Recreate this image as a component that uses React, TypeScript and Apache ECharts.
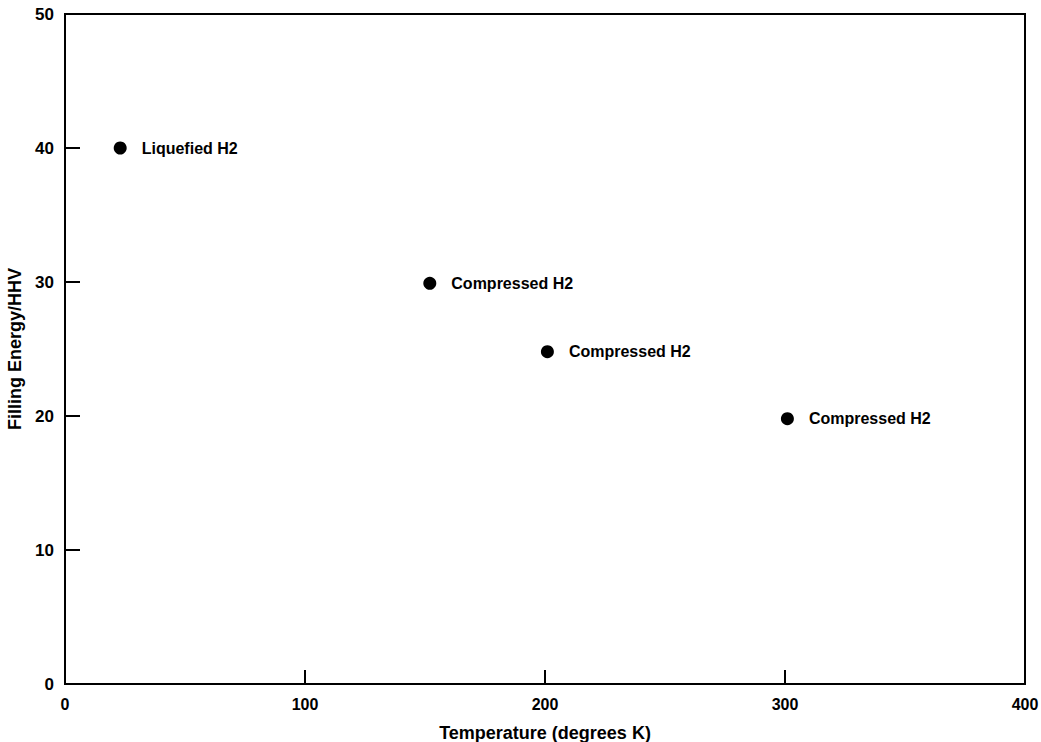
import React, { useEffect, useRef } from "react";
import * as echarts from "echarts";

const temperatures = [23, 152, 201, 301];
const fillingEnergy = [40, 29.9, 24.8, 19.8];
const pointLabels = ["Liquefied H2", "Compressed H2", "Compressed H2", "Compressed H2"];

export default function App() {
  const ref = useRef<HTMLDivElement>(null);
  useEffect(() => {
    if (!ref.current) return;
    const chart = echarts.init(ref.current, null, { renderer: "svg" });
    const font = "'Liberation Sans', Arial, Helvetica, sans-serif";
    chart.setOption({
      animation: false,
      backgroundColor: "#ffffff",
      textStyle: { fontFamily: font },
      grid: {
        left: 65,
        right: 16,
        top: 14,
        bottom: 58,
        outerBoundsMode: "none",
        containLabel: false,
        show: true,
        borderColor: "#000",
        borderWidth: 2,
        backgroundColor: "transparent",
      },
      xAxis: {
        type: "value",
        min: 0,
        max: 400,
        interval: 100,
        name: "Temperature (degrees K)",
        nameLocation: "middle",
        nameGap: 40,
        nameTextStyle: { color: "#000", fontSize: 18, fontWeight: "bold", fontFamily: font },
        axisLine: { show: false },
        axisTick: { show: true, inside: true, length: 14, lineStyle: { color: "#000", width: 2 } },
        axisLabel: { color: "#000", fontSize: 16, fontWeight: "bold", margin: 12, fontFamily: font },
        splitLine: { show: false },
      },
      yAxis: {
        type: "value",
        min: 0,
        max: 50,
        interval: 10,
        name: "Filling Energy/HHV",
        nameLocation: "middle",
        nameGap: 39,
        nameTextStyle: { color: "#000", fontSize: 18, fontWeight: "bold", fontFamily: font },
        axisLine: { show: false },
        axisTick: { show: true, inside: true, length: 15, lineStyle: { color: "#000", width: 2 } },
        axisLabel: { color: "#000", fontSize: 17, fontWeight: "bold", margin: 11, fontFamily: font },
        splitLine: { show: false },
      },
      series: [
        {
          type: "scatter",
          symbol: "circle",
          symbolSize: 13,
          itemStyle: { color: "#000", opacity: 1 },
          data: temperatures.map((t, i) => ({ value: [t, fillingEnergy[i]], name: pointLabels[i] })),
          label: {
            show: true,
            position: "right",
            distance: 15,
            formatter: (p: any) => p.name,
            color: "#000",
            fontSize: 16,
            fontWeight: "bold",
            fontFamily: font,
          },
        },
      ],
    });
    return () => chart.dispose();
  }, []);
  return <div ref={ref} style={{ width: 1041, height: 742, position: "absolute", left: 0, top: 0 }} />;
}
